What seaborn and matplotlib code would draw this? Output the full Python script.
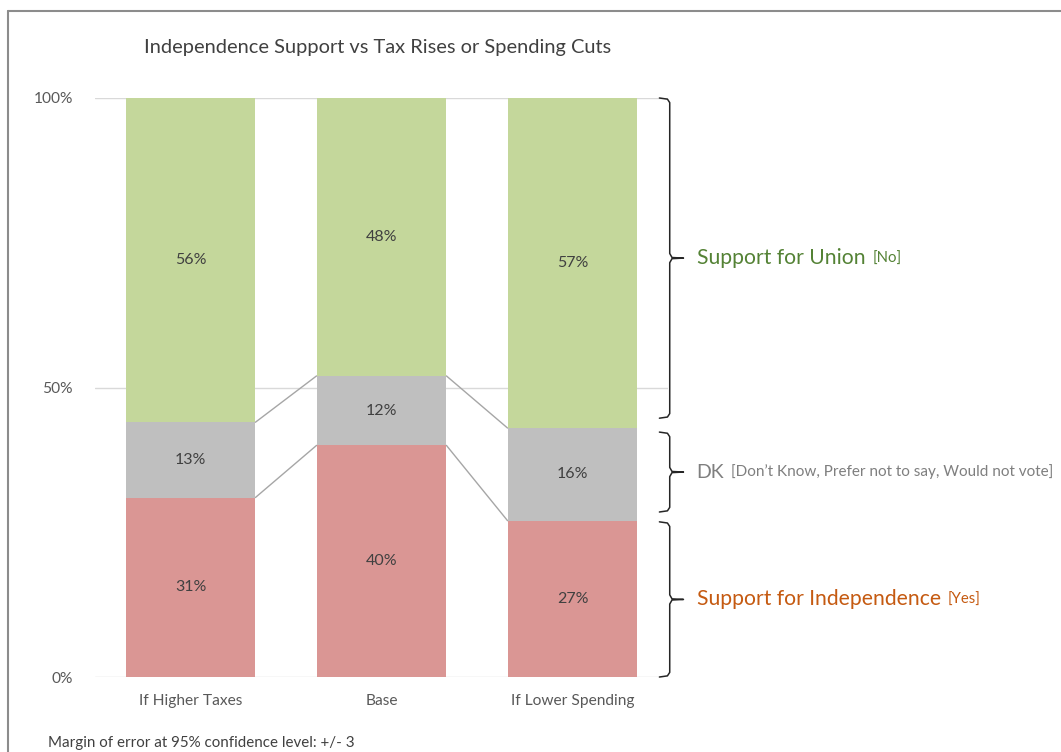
import matplotlib
matplotlib.use("Agg")
import matplotlib.pyplot as plt
import matplotlib.transforms as mtransforms
from matplotlib.lines import Line2D
import numpy as np
import pandas as pd
import seaborn as sns

# Survey shares (percent)
scenarios = ["If Higher Taxes", "Base", "If Lower Spending"]
yes_vals = [31, 40, 27]
dk_vals = [13, 12, 16]
no_vals = [56, 48, 57]
y_ticks = [0, 50, 100]
y_tick_labels = ["0%", "50%", "100%"]

GREEN = "#C4D79B"
GREY = "#BFBFBF"
RED = "#DA9694"

sns.set_theme(style="white")
plt.rcParams["font.family"] = ["Lato", "DejaVu Sans"]

fig = plt.figure(figsize=(10.61, 7.52), dpi=100)
ax = fig.add_axes([0.0895, 0.0997, 0.5401, 0.7700])

df = pd.DataFrame({
    "scenario": scenarios,
    "yes": yes_vals,
    "dk": dk_vals,
    "no": no_vals,
})
df["yes_dk"] = df["yes"] + df["dk"]
df["total"] = df["yes_dk"] + df["no"]

# Stacked bars: draw cumulative totals from the back to the front
width = 0.68
for col, color in [("total", GREEN), ("yes_dk", GREY), ("yes", RED)]:
    sns.barplot(data=df, x="scenario", y=col, color=color, width=width,
                saturation=1, ax=ax, errorbar=None, zorder=3,
                linewidth=0, edgecolor="none")

ax.set_xlim(-0.5, 2.5)
ax.set_ylim(0, 100)
ax.set_yticks(y_ticks)
ax.set_yticklabels(y_tick_labels)
ax.set_xlabel("")
ax.set_ylabel("")
for s in ax.spines.values():
    s.set_visible(False)
ax.grid(False)
for yv in y_ticks:
    ax.axhline(yv, color="#D9D9D9", lw=1.0, zorder=1)
ax.tick_params(axis="both", length=0, labelsize=11.2, colors="#595959")
ax.tick_params(axis="y", pad=16)
ax.tick_params(axis="x", pad=12)

# Segment value labels
for i in range(len(scenarios)):
    y0 = 0
    for v in (yes_vals[i], dk_vals[i], no_vals[i]):
        ax.text(i, y0 + v / 2, f"{v}%", ha="center", va="center",
                fontsize=11.5, color="#404040", zorder=5)
        y0 += v

# Connector lines between neighbouring bars
half = width / 2
levels = [df["yes"].values, df["yes_dk"].values]
for lv in levels:
    for i in range(len(scenarios) - 1):
        ax.plot([i + half, i + 1 - half], [lv[i], lv[i + 1]],
                color="#A6A6A6", lw=1.0, zorder=2)

# Curly brackets on the right
trans = mtransforms.blended_transform_factory(ax.transAxes, ax.transData)


def brace(top, bottom, x0=1.003, hook=0.018, tip=0.024):
    mid = (top + bottom) / 2
    r = 0.8
    xs = [x0 - hook, x0 - 0.004, x0, x0, x0 + 0.004, x0 + tip,
          x0 + 0.004, x0, x0, x0 - 0.004, x0 - hook]
    ys = [top, top - 0.2, top - r, mid + r, mid + 0.1, mid,
          mid - 0.1, mid - r, bottom + r, bottom + 0.2, bottom]
    ax.add_line(Line2D(xs, ys, transform=trans, color="#262626",
                       lw=1.1, clip_on=False))
    return mid


mids = [
    brace(100, 44.7),
    brace(42.3, 28.5),
    brace(26.8, 0.0),
]

labels = [
    ("Support for Union", "[No]", "#548235", 15.2, 10.7),
    ("DK", "[Don\u2019t Know, Prefer not to say, Would not vote]", "#7F7F7F", 14, 11),
    ("Support for Independence", "[Yes]", "#C55A11", 15.2, 10.7),
]
for (main, sub, color, fs, fs2), m in zip(labels, mids):
    t = ax.text(1.05, m, main, transform=trans, color=color, fontsize=fs,
                ha="left", va="center", clip_on=False)
    ax.annotate(sub, xy=(1, 0.12), xycoords=t, xytext=(5, 0),
                textcoords="offset points", ha="left", va="bottom",
                color=color, fontsize=fs2, annotation_clip=False)

fig.text(0.356, 0.937, "Independence Support vs Tax Rises or Spending Cuts",
         ha="center", va="center", fontsize=14.4, color="#404040")
fig.text(0.045, 0.012, "Margin of error at 95% confidence level: +/- 3",
         ha="left", va="center", fontsize=10.9, color="#404040")

# Chart frame
fx0 = 8 / 1061
fy1 = 1 - 11 / 752
fig.add_artist(Line2D([fx0, 1.0], [fy1, fy1], transform=fig.transFigure,
                      color="#8C8C8C", lw=1.5))
fig.add_artist(Line2D([fx0, fx0], [0.0, fy1], transform=fig.transFigure,
                      color="#8C8C8C", lw=1.5))

fig.savefig("out.png", dpi=100)
